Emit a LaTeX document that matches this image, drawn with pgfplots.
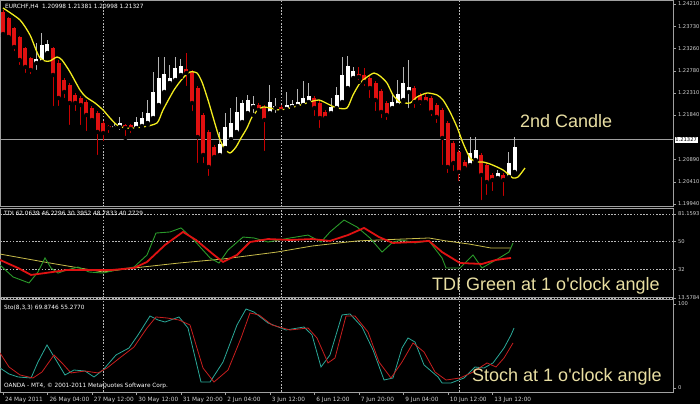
\documentclass[border=0pt]{standalone}
\usepackage{pgfplots}
\pgfplotsset{compat=1.18}
\usepackage{pgfplotstable}
\usepackage{fontspec}
\setmainfont{DejaVu Sans}
\newfontfamily\arialfont{Liberation Sans}
\definecolor{bearred}{HTML}{E01010}
\definecolor{bearwick}{HTML}{C80000}
\definecolor{bullwick}{HTML}{B4B4B4}
\definecolor{framec}{HTML}{A0A0A0}
\definecolor{gridc}{HTML}{B8B8B8}
\definecolor{ann}{HTML}{E8DEA2}
\definecolor{malin}{HTML}{F2EC1E}
\definecolor{tdigreen}{HTML}{2A9A2A}
\definecolor{tdired}{HTML}{E01212}
\definecolor{tdiyel}{HTML}{C8BC4A}
\definecolor{stteal}{HTML}{2AA898}
\definecolor{stred}{HTML}{C81E1E}
\definecolor{lbl}{HTML}{D2D2D2}
\newcommand{\mtfont}{\fontsize{5.8bp}{7bp}\selectfont}
\newcommand{\ytfont}{\fontsize{5.2bp}{6bp}\selectfont}
\newcommand{\annfont}{\arialfont\fontsize{18bp}{20bp}\selectfont}

\pgfplotstableread{
i o h l c
0 1.24039 1.24082 1.23526 1.23569
1 1.23911 1.23932 1.23441 1.23505
2 1.23697 1.23719 1.23163 1.23292
3 1.23505 1.23526 1.22865 1.23014
4 1.23270 1.23292 1.22694 1.22865
5 1.23057 1.23078 1.22672 1.22801
9 1.23270 1.23292 1.21989 1.22694
10 1.22950 1.23014 1.21989 1.22203
11 1.22587 1.22630 1.22160 1.22331
12 1.22480 1.22523 1.21584 1.22096
13 1.22267 1.22309 1.21882 1.22096
14 1.22203 1.22245 1.21584 1.22053
15 1.22117 1.22160 1.21455 1.21840
16 1.21989 1.22032 1.21669 1.21733
17 1.21882 1.21925 1.20943 1.21477
18 1.21669 1.21712 1.21242 1.21455
19 1.21605 1.21626 1.21413 1.21562
22 1.21626 1.21648 1.21349 1.21562
23 1.21626 1.21648 1.21413 1.21541
33 1.22822 1.23163 1.22416 1.22736
34 1.22758 1.22801 1.21882 1.22096
35 1.22416 1.22459 1.20772 1.21370
36 1.21840 1.21882 1.20772 1.20986
37 1.21477 1.21520 1.20495 1.20730
38 1.21157 1.21199 1.20879 1.20943
46 1.22053 1.22096 1.21882 1.21947
47 1.22011 1.22053 1.21028 1.21733
50 1.22011 1.22053 1.21882 1.21925
56 1.22203 1.22245 1.21776 1.21989
57 1.22096 1.22139 1.21520 1.21776
58 1.21904 1.21947 1.21690 1.21776
64 1.22715 1.22865 1.22544 1.22651
65 1.22694 1.22843 1.22416 1.22544
66 1.22630 1.22672 1.22160 1.22416
67 1.22523 1.22566 1.21882 1.22160
68 1.22352 1.22395 1.21733 1.21904
69 1.22096 1.22139 1.21690 1.21840
74 1.22416 1.22459 1.21947 1.22117
75 1.22267 1.22309 1.22011 1.22117
76 1.22224 1.22309 1.22075 1.22117
77 1.22203 1.22245 1.21776 1.21904
78 1.22053 1.22096 1.21626 1.21797
79 1.21947 1.21989 1.20730 1.21349
80 1.21669 1.21712 1.20559 1.20730
81 1.21242 1.21285 1.20601 1.20815
82 1.21050 1.21093 1.20388 1.20623
83 1.20836 1.20879 1.20666 1.20708
86 1.20986 1.21028 1.19982 1.20559
87 1.20772 1.20815 1.20089 1.20409
88 1.20559 1.20601 1.20174 1.20452
90 1.20559 1.20601 1.20068 1.20452
}\bear

\pgfplotstableread{
i o h l c
6 1.22950 1.23377 1.22758 1.23035
7 1.22971 1.23590 1.22929 1.23334
8 1.23163 1.23441 1.23121 1.23356
20 1.21562 1.21669 1.21477 1.21605
21 1.21584 1.21797 1.21477 1.21669
24 1.21562 1.21797 1.21520 1.21690
25 1.21605 1.21904 1.21562 1.21776
26 1.21669 1.22160 1.21626 1.21882
27 1.21776 1.22758 1.21733 1.22331
28 1.22053 1.23078 1.22011 1.22630
29 1.22331 1.23078 1.22288 1.22715
30 1.22523 1.22907 1.22480 1.22630
31 1.22587 1.23078 1.22544 1.22843
32 1.22694 1.23035 1.22651 1.22886
39 1.20986 1.21477 1.20922 1.21221
40 1.21135 1.21882 1.21093 1.21584
41 1.21327 1.21989 1.21285 1.21669
42 1.21477 1.22224 1.21434 1.21904
43 1.21690 1.22160 1.21648 1.22096
44 1.21882 1.22267 1.21840 1.22160
45 1.22011 1.22245 1.21840 1.22075
48 1.21882 1.22480 1.21840 1.22117
49 1.21989 1.22203 1.21840 1.22032
51 1.21968 1.22331 1.21925 1.22053
52 1.22011 1.22160 1.21968 1.22075
53 1.22032 1.22395 1.21989 1.22117
54 1.22053 1.22566 1.22011 1.22203
55 1.22117 1.22523 1.22075 1.22245
59 1.21882 1.22203 1.21840 1.22011
60 1.21989 1.22438 1.21947 1.22267
61 1.22117 1.23078 1.22075 1.22694
62 1.22416 1.23099 1.22374 1.22886
63 1.22630 1.22865 1.22587 1.22779
70 1.21989 1.22309 1.21947 1.22117
71 1.22053 1.22587 1.22011 1.22288
72 1.22160 1.22865 1.22117 1.22523
73 1.22331 1.23014 1.21947 1.22438
84 1.20772 1.21370 1.20730 1.21028
85 1.20879 1.21370 1.20836 1.21093
89 1.20495 1.20666 1.20452 1.20601
91 1.20516 1.21050 1.20473 1.20815
92 1.20623 1.21370 1.20580 1.21157
}\bull

\pgfplotsset{
  mt/.style={scale only axis, width=673bp, xmin=-0.54, xmax=120.5,
    anchor=south west, clip=false,
    axis line style={framec, line width=1bp},
    tick style={framec, line width=0.6bp},
    tick align=outside, major tick length=3bp,
    ytick pos=right, yticklabel pos=right,
    ticklabel style={font=\mtfont, text=lbl},
    yticklabel style={font=\ytfont, xshift=-1.5bp},
    grid style={gridc, line width=0.6bp, dash pattern=on 1.6bp off 1.6bp}},
}

\begin{document}
\begin{tikzpicture}
\fill[black] (0,0) rectangle (700bp,404bp);
\useasboundingbox (0,0) rectangle (700bp,404bp);

% ---------------- price panel ----------------
\begin{axis}[mt, at={(0bp,197bp)}, height=206bp,
  ymin=1.198755, ymax=1.242737,
  xtick={18,50,82}, xticklabels={}, xmajorgrids, xmajorticks=false,
  ytick={1.19940,1.20410,1.20890,1.21840,1.22310,1.22780,1.23260,1.23730,1.24210},
  yticklabels={1.19940,1.20410,1.20890,1.21840,1.22310,1.22780,1.23260,1.23730,1.24210}]
\addplot[forget plot, color=gray!75, line width=0.6bp] coordinates {(-0.54,1.21327) (120.5,1.21327)};
% wicks
\addplot[forget plot, only marks, mark=none,
  error bars/.cd, y dir=plus, y explicit, error mark=none,
  error bar style={draw=bearwick, solid, line width=1bp}]
  table[x=i, y=l, y error plus expr=\thisrow{h}-\thisrow{l}] {\bear};
\addplot[forget plot, only marks, mark=none,
  error bars/.cd, y dir=plus, y explicit, error mark=none,
  error bar style={draw=bullwick, solid, line width=1bp}]
  table[x=i, y=l, y error plus expr=\thisrow{h}-\thisrow{l}] {\bull};
% bodies
\addplot[forget plot, only marks, mark=none,
  error bars/.cd, y dir=plus, y explicit, error mark=none,
  error bar style={draw=bearred, solid, line width=4bp}]
  table[x=i, y=c, y error plus expr={max(\thisrow{o}-\thisrow{c},0.00015)}] {\bear};
\addplot[forget plot, only marks, mark=none,
  error bars/.cd, y dir=plus, y explicit, error mark=none,
  error bar style={draw=white, solid, line width=4bp}]
  table[x=i, y=o, y error plus expr={max(\thisrow{c}-\thisrow{o},0.00015)}] {\bull};
% moving average
\addplot[malin, line width=1.3bp, smooth, tension=0.4, mark=none] coordinates {
(0,1.24124) (3.06,1.23868) (4.86,1.23548) (5.94,1.23228) (6.65,1.23057) (7.55,1.22993)
(8.45,1.22993) (9.71,1.23078) (10.61,1.23014) (12.05,1.22758) (13.85,1.22374) (14.93,1.22224)
(16.55,1.22096) (17.99,1.21947) (19.24,1.21776) (20.5,1.21626) (21.94,1.21562) (23.38,1.21562)
(25.18,1.21584) (27.7,1.21669) (28.78,1.21947) (30.76,1.22374) (32.37,1.22630) (33.63,1.22758)
(34.89,1.22736) (35.79,1.22544) (36.87,1.22160) (37.77,1.21797) (38.85,1.21370) (39.75,1.21135)
(40.83,1.21028) (41.91,1.21157) (42.81,1.21349) (43.88,1.21562) (44.78,1.21797) (45.86,1.21947)
(46.76,1.22011) (48.02,1.21989) (49.82,1.21947) (51.62,1.21989) (52.88,1.22032) (54.68,1.22096)
(55.76,1.22139) (56.83,1.22160) (57.73,1.22117) (58.81,1.22053) (60.07,1.21989) (61.87,1.21989)
(62.95,1.22267) (64.21,1.22523) (65.47,1.22651) (66.73,1.22736) (67.81,1.22672) (69.06,1.22523)
(70.14,1.22267) (71.4,1.22117) (73.2,1.22096) (74.46,1.22224) (76.26,1.22309) (78.06,1.22267)
(79.14,1.22160) (80.4,1.21904) (81.65,1.21584) (82.73,1.21242) (84.0,1.20922) (85.25,1.20836)
(86.33,1.20836) (87.59,1.20794) (88.85,1.20730) (89.93,1.20666) (90.83,1.20580) (91.73,1.20495)
(92.63,1.20516) (93.88,1.20708)};
\end{axis}

% ---------------- TDI panel ----------------
\begin{axis}[mt, at={(0bp,106bp)}, height=89.5bp,
  ymin=13.57, ymax=71.48,
  xtick={18,50,82}, xticklabels={}, xmajorgrids, xmajorticks=false,
  ytick={13.5784,32,50,68}, yticklabels={13.5784,32,50,81.1593}, ymajorgrids]
\addplot[tdiyel, line width=0.8bp, mark=none] coordinates {
(-0.54,42.0) (8.45,36.2) (18.0,30.4) (23.56,33.0) (31.65,36.2) (39.57,38.8) (49.28,43.3)
(55.58,47.2) (63.67,50.5) (71.76,51.7) (76.6,52.4) (79.68,50.5) (83.81,48.5) (87.77,45.9)
(91.37,45.9)};
\addplot[tdigreen, line width=0.9bp, mark=none] coordinates {
(-0.54,34.9) (1.8,27.2) (4.68,23.3) (6.29,30.4) (7.55,39.5) (8.63,33.0) (9.89,29.7)
(11.5,31.7) (13.49,33.6) (15.47,30.4) (17.99,29.7) (20.32,31.7) (23.56,33.6) (25.9,41.4)
(27.52,55.6) (30.04,56.3) (32.01,58.9) (33.99,52.4) (37.23,39.5) (38.85,36.2) (40.47,44.6)
(43.17,53.0) (45.14,52.4) (47.66,49.8) (51.62,52.4) (54.86,54.3) (57.19,49.8) (58.81,56.3)
(61.33,64.0) (63.67,59.5) (66.0,52.4) (68.17,43.3) (70.14,49.8) (71.76,51.1) (74.1,49.2)
(76.62,50.5) (78.96,39.5) (79.68,33.0) (82.19,33.0) (84.53,41.4) (86.15,33.0) (88.67,38.2)
(91.0,43.3) (91.73,49.2)};
\addplot[tdired, line width=1.8bp, mark=none] coordinates {
(-0.54,38.2) (2.7,33.0) (5.04,28.5) (7.55,29.7) (11.5,31.7) (15.47,31.7) (19.6,31.7)
(23.56,33.0) (25.9,36.9) (29.14,47.9) (32.37,56.3) (34.71,51.1) (37.95,41.4) (39.57,36.9)
(42.09,41.4) (44.42,49.8) (47.66,51.7) (51.62,51.1) (55.58,51.7) (58.81,50.5) (62.05,54.3)
(64.93,58.9) (67.63,53.0) (70.14,49.2) (74.1,49.8) (76.62,50.5) (78.96,43.3) (82.19,36.2)
(86.15,35.6) (88.67,38.2) (91.37,39.5)};
\end{axis}

% ---------------- Stochastic panel ----------------
\begin{axis}[mt, at={(0bp,12bp)}, height=92.5bp,
  ymin=-4.76, ymax=105.3,
  xtick={0,8,...,88}, xtick pos=bottom,
  xticklabels={24 May 2011,26 May 04:00,27 May 12:00,30 May 12:00,31 May 20:00,2 Jun 04:00,3 Jun 12:00,6 Jun 12:00,7 Jun 20:00,9 Jun 04:00,10 Jun 12:00,13 Jun 12:00},
  xticklabel style={anchor=north west, xshift=-1.5bp, yshift=1.5bp},
  extra x ticks={18,50,82}, extra x tick labels={},
  extra x tick style={grid=major, major tick length=0pt},
  ytick={0,100}, yticklabels={0,100}]
\addplot[stteal, line width=0.8bp, mark=none] coordinates {
(-0.54,23.8) (1.08,16.7) (2.7,13.1) (5.04,11.9) (6.29,30.9) (7.91,51.2) (9.53,33.3)
(11.15,15.5) (12.77,21.4) (14.75,20.2) (16.37,13.1) (17.99,21.4) (20.32,39.3) (22.66,47.6)
(24.28,63.1) (26.44,85.7) (27.88,80.9) (29.14,78.5) (31.65,84.5) (33.27,71.4) (35.61,7.1)
(37.23,7.1) (39.57,30.9) (42.09,75.0) (43.71,94.0) (45.14,90.4) (47.66,77.4) (50.9,69.0)
(54.14,72.6) (55.58,63.1) (57.19,25.0) (58.81,39.3) (60.97,86.9) (62.41,88.1) (64.57,72.6)
(66.55,45.2) (68.53,9.5) (70.14,11.9) (71.76,47.6) (72.84,59.5) (74.1,54.7) (75.72,27.4)
(78.24,13.1) (78.96,6.0) (80.58,6.0) (82.91,11.9) (84.89,25.0) (86.51,23.8) (88.13,29.8)
(90.11,47.6) (91.37,63.1) (91.91,71.4)};
\addplot[stred, line width=0.8bp, mark=none] coordinates {
(-0.54,41.7) (1.08,25.0) (3.06,15.5) (5.4,11.9) (7.01,19.0) (9.17,39.3) (10.61,29.8)
(12.23,17.9) (14.75,20.2) (17.09,17.9) (18.71,23.8) (21.22,36.9) (23.56,48.8) (25.9,71.4)
(27.52,84.5) (29.5,83.3) (31.65,80.9) (33.63,75.0) (35.97,23.8) (37.95,7.1) (40.47,21.4)
(42.81,59.5) (44.42,89.3) (46.04,86.9) (48.38,75.0) (51.62,69.0) (54.86,71.4) (56.47,59.5)
(58.45,29.8) (59.71,35.7) (61.69,85.7) (63.31,85.7) (65.65,66.6) (67.63,30.9) (69.78,11.9)
(71.76,30.9) (73.74,53.6) (75.72,42.8) (77.7,19.0) (79.68,9.5) (82.19,11.9) (84.53,19.0)
(87.05,29.8) (88.67,25.0) (90.11,35.7) (91.73,53.6)};
\end{axis}

% ---------------- texts ----------------
\node[anchor=west, font=\mtfont, text=white, inner sep=0pt] at (5bp,397bp) {EURCHF,H4\ \ 1.20998 1.21381 1.20998 1.21327};
\node[anchor=west, font=\mtfont, text=white, inner sep=0pt] at (4bp,191bp) {TDI 62.0639 46.2296 30.3952 48.7833 40.2729};
\node[anchor=west, font=\mtfont, text=white, inner sep=0pt] at (4bp,96bp) {Sto(8,3,3) 69.8746 55.2770};
\node[anchor=west, font=\mtfont, text=white, inner sep=0pt] at (4bp,18bp) {OANDA - MT4, © 2001-2011 MetaQuotes Software Corp.};
\node[anchor=west, fill=white, text=black, font=\ytfont, inner sep=0.7bp] at (674.5bp,264bp) {1.21327};
\node[anchor=base west, text=ann, font=\annfont, inner sep=0pt] at (520bp,276bp) {2nd Candle};
\node[anchor=base west, text=ann, font=\annfont, inner sep=0pt] at (432bp,113bp) {TDI Green at 1 o'clock angle};
\node[anchor=base west, text=ann, font=\annfont, inner sep=0pt] at (472bp,23bp) {Stoch at 1 o'clock angle};
\end{tikzpicture}
\end{document}
